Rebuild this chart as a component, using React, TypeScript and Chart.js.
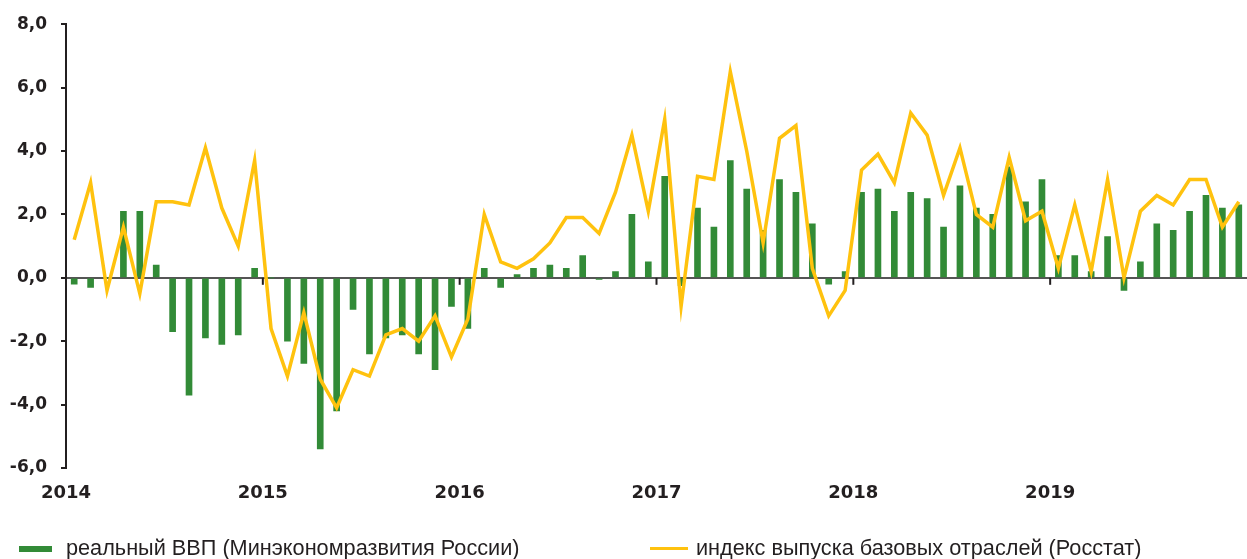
import React, { useEffect, useRef } from "react";
import { Chart, registerables } from "chart.js";

Chart.register(...registerables);

const years = ["2014", "2015", "2016", "2017", "2018", "2019"];

// реальный ВВП (Минэкономразвития России), % г/г, monthly 2014–2019
const gdp = [
  -0.2, -0.3, 0.0, 2.1, 2.1, 0.4, -1.7, -3.7, -1.9, -2.1, -1.8, 0.3,
  0.0, -2.0, -2.7, -5.4, -4.2, -1.0, -2.4, -1.9, -1.8, -2.4, -2.9, -0.9,
  -1.6, 0.3, -0.3, 0.1, 0.3, 0.4, 0.3, 0.7, -0.05, 0.2, 2.0, 0.5,
  3.2, -0.25, 2.2, 1.6, 3.7, 2.8, 1.5, 3.1, 2.7, 1.7, -0.2, 0.2,
  2.7, 2.8, 2.1, 2.7, 2.5, 1.6, 2.9, 2.2, 2.0, 3.5, 2.4, 3.1,
  0.7, 0.7, 0.2, 1.3, -0.4, 0.5, 1.7, 1.5, 2.1, 2.6, 2.2, 2.3,
];

// индекс выпуска базовых отраслей (Росстат), % г/г
const baseIndex = [
  1.2, 3.0, -0.4, 1.6, -0.5, 2.4, 2.4, 2.3, 4.1, 2.2, 1.0, 3.7,
  -1.6, -3.1, -1.1, -3.2, -4.1, -2.9, -3.1, -1.8, -1.6, -2.0, -1.2, -2.5,
  -1.3, 2.0, 0.5, 0.3, 0.6, 1.1, 1.9, 1.9, 1.4, 2.7, 4.5, 2.1,
  5.0, -0.9, 3.2, 3.1, 6.5, 4.0, 1.1, 4.4, 4.8, 0.3, -1.2, -0.4,
  3.4, 3.9, 3.0, 5.2, 4.5, 2.6, 4.1, 2.0, 1.6, 3.8, 1.8, 2.1,
  0.3, 2.3, 0.2, 3.1, 0.0, 2.1, 2.6, 2.3, 3.1, 3.1, 1.6, 2.4,
];

const yTicks = [-6, -4, -2, 0, 2, 4, 6, 8];

const gdpLabel = "реальный ВВП (Минэкономразвития России)";
const indexLabel = "индекс выпуска базовых отраслей (Росстат)";

const GREEN = "#328b37";
const YELLOW = "#ffc20e";
const TEXT = "#231f20";

const yearTickMarks = {
  id: "yearTickMarks",
  afterDatasetsDraw(chart: any) {
    const { ctx, scales } = chart;
    const x = scales.x;
    const y0 = scales.y.getPixelForValue(0);
    ctx.save();
    ctx.strokeStyle = TEXT;
    ctx.lineWidth = 2;
    years.forEach((_, k) => {
      if (k === 0) return;
      const px = x.getPixelForValue(k * 12);
      ctx.beginPath();
      ctx.moveTo(px, y0);
      ctx.lineTo(px, y0 + 7);
      ctx.stroke();
    });
    ctx.restore();
  },
};

export default function App() {
  const ref = useRef<HTMLCanvasElement>(null);
  useEffect(() => {
    document.body.style.margin = "0";
    const chart = new Chart(ref.current!, {
      type: "bar",
      data: {
        datasets: [
          {
            type: "line",
            label: indexLabel,
            data: baseIndex.map((v, i) => ({ x: i + 0.5, y: v })),
            borderColor: YELLOW,
            backgroundColor: YELLOW,
            borderWidth: 3.5,
            pointRadius: 0,
            tension: 0,
            order: 0,
          } as any,
          {
            type: "bar",
            label: gdpLabel,
            data: gdp.map((v, i) => ({ x: i + 0.5, y: v })),
            backgroundColor: GREEN,
            barThickness: 6,
            order: 1,
          } as any,
        ],
      },
      options: {
        animation: false,
        responsive: false,
        layout: { padding: { top: 23, right: 0, bottom: 51, left: 0 } },
        plugins: { legend: { display: false }, tooltip: { enabled: false } },
        scales: {
          x: {
            type: "linear",
            min: 0,
            max: 72,
            offset: false,
            afterBuildTicks: (s: any) => {
              s.ticks = years.map((_, k) => ({ value: k * 12 }));
            },
            ticks: {
              callback: (v: any) => years[Math.round(v / 12)],
              font: { family: "'DejaVu Sans', sans-serif", size: 18, weight: "bold" },
              color: TEXT,
              padding: 15,
              maxRotation: 0,
              autoSkip: false,
            },
            grid: { display: false, drawTicks: false, offset: false },
            border: { display: false },
            afterFit: (s: any) => {
              s.height = 40;
            },
          } as any,
          y: {
            min: -6,
            max: 8,
            afterBuildTicks: (s: any) => {
              s.ticks = yTicks.map((v) => ({ value: v }));
            },
            ticks: {
              callback: (v: any) => Number(v).toFixed(1).replace(".", ","),
              font: { family: "'DejaVu Sans', sans-serif", size: 17, weight: "bold" },
              color: TEXT,
              padding: 14,
            },
            grid: {
              color: (ctx: any) => (ctx.tick && ctx.tick.value === 0 ? "#555555" : "transparent"),
              lineWidth: 2,
              tickColor: TEXT,
              tickLength: 5,
              tickWidth: 2,
            },
            border: { display: true, color: TEXT, width: 2 },
            afterFit: (s: any) => {
              s.width = 66;
            },
          } as any,
        },
      },
      plugins: [yearTickMarks],
    });
    return () => chart.destroy();
  }, []);

  const legendText: React.CSSProperties = {
    position: "absolute",
    top: 536,
    fontFamily: "'Liberation Sans', Arial, sans-serif",
    fontSize: 21.7,
    color: TEXT,
    whiteSpace: "nowrap",
    lineHeight: "24px",
  };

  return (
    <div style={{ position: "relative", width: 1247, height: 559, background: "#fff" }}>
      <canvas ref={ref} width={1247} height={559} style={{ position: "absolute", left: 0, top: 0 }} />
      <div style={{ position: "absolute", left: 19, top: 546, width: 33, height: 6, background: GREEN }} />
      <div style={{ ...legendText, left: 66 }}>{gdpLabel}</div>
      <div style={{ position: "absolute", left: 650, top: 547, width: 38, height: 3, background: YELLOW }} />
      <div style={{ ...legendText, left: 696 }}>{indexLabel}</div>
    </div>
  );
}
